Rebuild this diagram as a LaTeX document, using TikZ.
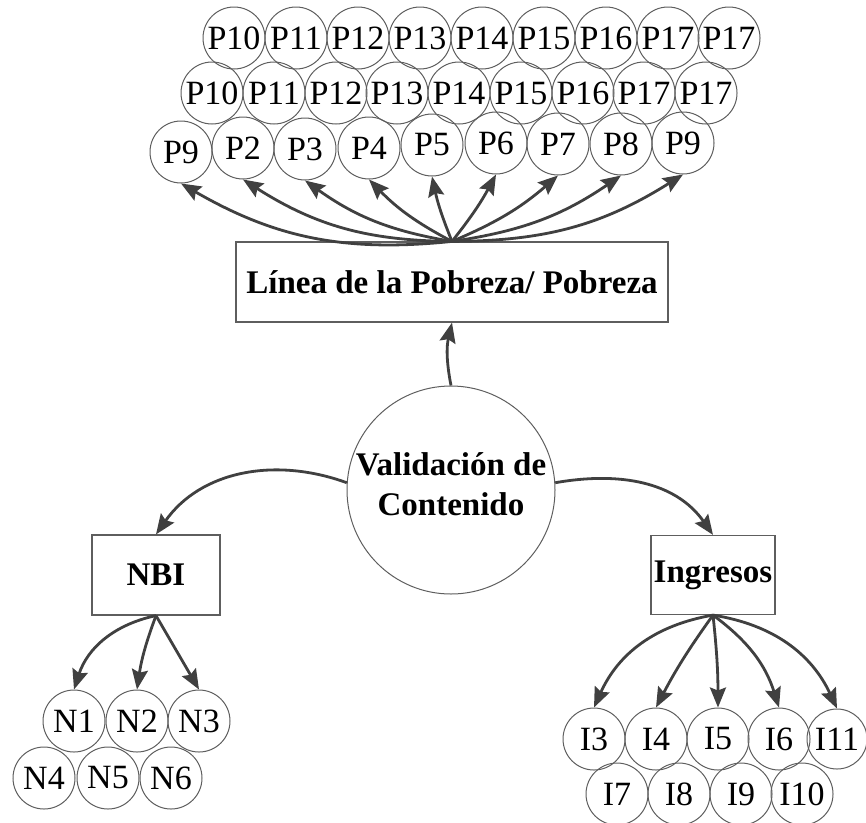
\documentclass[tikz,border=0pt]{standalone}
\usepackage{fontspec}
\setmainfont{Liberation Serif}
\usetikzlibrary{arrows.meta}
\definecolor{arrgray}{HTML}{404040}
\definecolor{linegray}{HTML}{5E5E5E}
\tikzset{
  circ/.style={circle, draw=linegray, line width=1pt, minimum size=62pt, inner sep=0pt,
    font=\fontsize{34}{40}\selectfont},
  boxn/.style={rectangle, draw=linegray, line width=1.2pt, inner sep=0pt,
    font=\bfseries\fontsize{33}{40}\selectfont},
  arr/.style={draw=arrgray, line width=2.8pt,
    -{Stealth[length=20pt, width=16pt, inset=3pt]}},
}
\begin{document}
\begin{tikzpicture}[x=1pt, y=-1pt]
\useasboundingbox (0,0) rectangle (866,822);
% top row
\foreach \t/\x [count=\i] in {P10/234, P11/296, P12/358, P13/420, P14/482, P15/544, P16/606, P17/668, P17/729}
  \node[circ] (a\i) at (\x,38) {\t};
% second row
\foreach \t/\x [count=\i] in {P10/212, P11/274, P12/336, P13/397, P14/459, P15/521, P16/583, P17/644, P17/706}
  \node[circ] (b\i) at (\x,93) {\t};
% third row
\node[circ] (p1) at (181,152) {P9};
\node[circ] (p2) at (243,148) {P2};
\node[circ] (p3) at (305,149) {P3};
\node[circ] (p4) at (369,148) {P4};
\node[circ] (p5) at (432,145) {P5};
\node[circ] (p6) at (496,143) {P6};
\node[circ] (p7) at (558,144) {P7};
\node[circ] (p8) at (621,144) {P8};
\node[circ] (p9) at (683,143) {P9};
% boxes
\node[boxn, minimum width=432pt, minimum height=80pt] (lp) at (452,282) {Línea de la Pobreza/ Pobreza};
\node[circle, draw=linegray, line width=1pt, minimum size=208pt, inner sep=0pt, align=center,
  text depth=12pt, font=\bfseries\fontsize{33}{40}\selectfont] (vc) at (451,490) {Validación de\\Contenido};
\node[boxn, minimum width=128pt, minimum height=80pt] (nbi) at (156,575) {NBI};
\node[boxn, minimum width=124pt, minimum height=79pt] (ing) at (713,575) {Ingresos};
% NBI children
\node[circ] (n1) at (74,721) {N1};
\node[circ] (n2) at (137,721) {N2};
\node[circ] (n3) at (199,721) {N3};
\node[circ] (n4) at (44,778) {N4};
\node[circ] (n5) at (108,778) {N5};
\node[circ] (n6) at (171,778) {N6};
% Ingresos children
\node[circ] (i3) at (594,739) {I3};
\node[circ] (i4) at (656,739) {I4};
\node[circ] (i5) at (718,739) {I5};
\node[circ] (i6) at (779,739) {I6};
\node[circ, minimum size=60pt] (i11) at (837,739) {I11};
\node[circ] (i7) at (617,794) {I7};
\node[circ] (i8) at (679,794) {I8};
\node[circ] (i9) at (741,794) {I9};
\node[circ] (i10) at (802,794) {I10};
% arrows to top
\draw[arr] (lp.north) to[bend left=18] (p1.south);
\draw[arr] (lp.north) to[bend left=16] (p2.south);
\draw[arr] (lp.north) to[bend left=13] (p3.south);
\draw[arr] (lp.north) to[bend left=9] (p4.south);
\draw[arr] (lp.north) to[bend left=5] (p5.south);
\draw[arr] (lp.north) to[bend right=5] (p6.south);
\draw[arr] (lp.north) to[bend right=9] (p7.south);
\draw[arr] (lp.north) to[bend right=13] (p8.south);
\draw[arr] (lp.north) to[bend right=16] (p9.south);
% center arrows
\draw[arr] (vc.north) to[bend left=12] (lp.south);
\draw[arr] (vc.176) to[out=160, in=55] (nbi.north);
\draw[arr] (vc.4) to[out=10, in=125] (ing.north);
% NBI arrows
\draw[arr] (nbi.south) to[bend right=30] (n1.north);
\draw[arr] (nbi.south) to[bend right=6] (n2.north);
\draw[arr] (nbi.south) -- (n3.north);
% Ingresos arrows
\draw[arr] (ing.south) to[bend right=28] (i3.north);
\draw[arr] (ing.south) to[bend right=4] (i4.north);
\draw[arr] (ing.south) to[bend left=3] (i5.north);
\draw[arr] (ing.south) to[bend left=18] (i6.north);
\draw[arr] (ing.south) to[bend left=28] (i11.north);
\end{tikzpicture}
\end{document}
